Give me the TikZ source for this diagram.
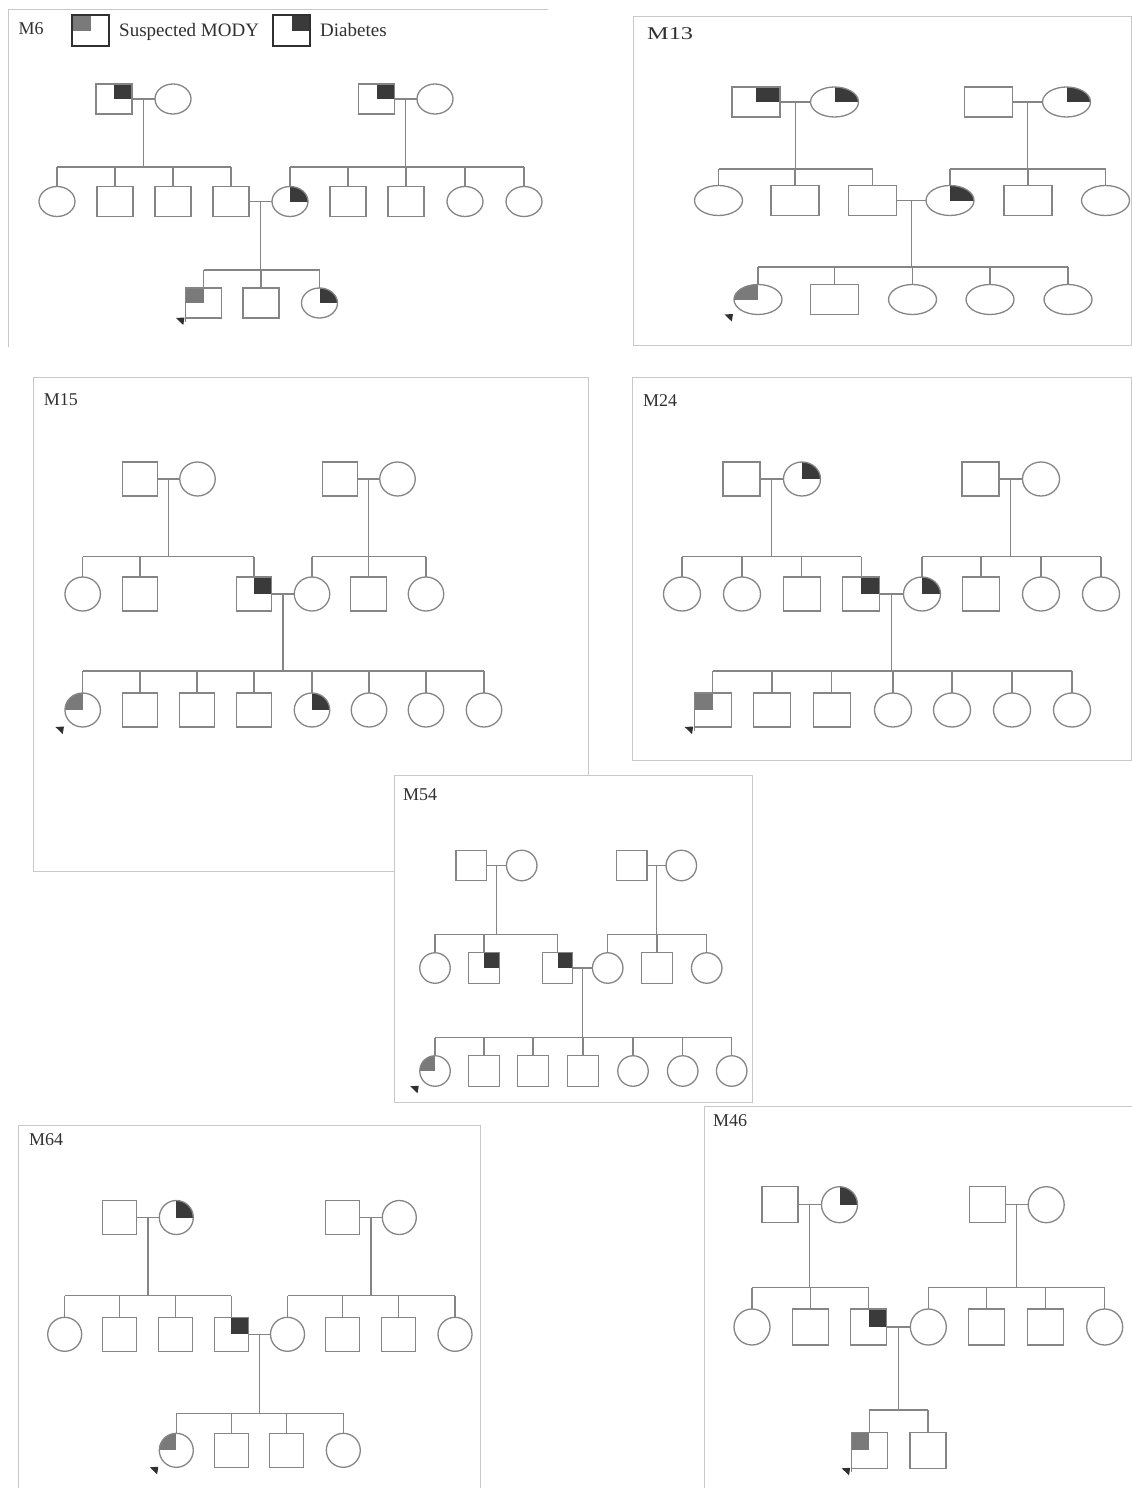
\documentclass[tikz,border=0pt]{standalone}
\usepackage{fontspec}
\setmainfont{Liberation Serif}
\usetikzlibrary{shapes.geometric,calc}
\definecolor{lc}{HTML}{858585}
\definecolor{fc}{HTML}{C8C8C8}
\definecolor{dk}{HTML}{3A3A3A}
\definecolor{md}{HTML}{7A7A7A}
\definecolor{tc}{HTML}{303030}
\def\pedw{36}\def\pedh{30}
\tikzset{
 ln/.style={draw=lc, line width=1.3pt},
 ind/.style={draw=lc, line width=1.3pt, fill=white, minimum width=\pedw pt, minimum height=\pedh pt, inner sep=0pt, outer sep=0pt},
 sq/.style={ind, rectangle},
 ci/.style={ind, ellipse},
 dia/.style={path picture={\fill[dk] (path picture bounding box.center) rectangle (path picture bounding box.north east);}},
 mody/.style={path picture={\fill[md] (path picture bounding box.center) rectangle (path picture bounding box.north west);}},
 frm/.style={draw=fc, line width=0.9pt},
 lbl/.style={anchor=base west, inner sep=0pt, text=tc, font=\fontsize{18}{18}\selectfont},
 leg/.style={rectangle, draw=tc, line width=2pt, fill=white, minimum width=37.5pt, minimum height=31pt, inner sep=0pt, outer sep=0pt},
}
% father, mother, sibship coordinate, first child, last child
\newcommand\pedfam[5]{%
 \draw[ln] (#1.east) -- (#2.west);
 \coordinate (#1#2m) at ($(#1.east)!.5!(#2.west)$);
 \draw[ln] (#1#2m) -- (#1#2m |- #3);
 \draw[ln] (#4.north |- #3) -- (#5.north |- #3);
}
\newcommand\pbtri[1]{\fill[tc] ($(#1)+(-9.5,0)$) -- ($(#1)+(-1,-0.5)$) -- ($(#1)+(-2.2,7)$) -- cycle;}
\begin{document}
\begin{tikzpicture}[x=1pt,y=-1pt]
\useasboundingbox (0,0) rectangle (1132,1488);
\clip (0,0) rectangle (1132,1488);
% ---------- frames ----------
\draw[frm] (8,347) -- (8,9.5) -- (548,9.5);
\draw[frm] (633,16) rectangle (1131,345);
\draw[frm] (33.6,377.7) rectangle (588,871.7);
\draw[frm] (632,377.7) rectangle (1131,760);
\draw[frm, fill=white] (394,775) rectangle (752,1102.7);
\draw[frm] (18.3,1125) rectangle (480,1500);
\draw[frm] (704,1106) rectangle (1145,1500);
% ---------- labels ----------
\node[lbl] (t6) at (18.5,34.5) {M6};
\node[leg, mody] (lg1) at (90.5,31) {};
\node[lbl, font=\fontsize{19}{19}\selectfont] (lt1) at (119,37) {Suspected MODY};
\node[leg, dia] (lg2) at (291.5,31) {};
\node[lbl, font=\fontsize{19}{19}\selectfont] (lt2) at (320,37) {Diabetes};
\node[lbl] (t13) at (647,40) {\scalebox{1.35}[1]{M13}};
\node[lbl] (t15) at (43.6,405) {M15};
\node[lbl] (t24) at (643,406) {M24};
\node[lbl] (t54) at (403,800) {M54};
\node[lbl] (t64) at (29,1145) {M64};
\node[lbl] (t46) at (713,1126) {M46};

% ================= M6 =================
\begin{scope}
\def\pedw{36}\def\pedh{30}
\node[sq,dia] (A1) at (114,99) {};
\node[ci] (A2) at (173,99) {};
\node[sq,dia] (A3) at (376.5,99) {};
\node[ci] (A4) at (435,99) {};
\coordinate (As1) at (0,167);
\coordinate (As2) at (0,270);
\node[ci] (a1) at (57,201.5) {};
\node[sq] (a2) at (115,201.5) {};
\node[sq] (a3) at (173,201.5) {};
\node[sq] (a4) at (231,201.5) {};
\node[ci,dia] (a5) at (290,201.5) {};
\node[sq] (a6) at (348,201.5) {};
\node[sq] (a7) at (406,201.5) {};
\node[ci] (a8) at (465,201.5) {};
\node[ci] (a9) at (524,201.5) {};
\node[sq,mody] (b1) at (203.5,303) {};
\node[sq] (b2) at (261,303) {};
\node[ci,dia] (b3) at (319.5,303) {};
\pedfam{A1}{A2}{As1}{a1}{a4}
\pedfam{A3}{A4}{As1}{a5}{a9}
\pedfam{a4}{a5}{As2}{b1}{b3}
\foreach \c in {a1,a2,a3,a4,a5,a6,a7,a8,a9} \draw[ln] (\c.north) -- (\c.north |- As1);
\foreach \c in {b1,b2,b3} \draw[ln] (\c.north) -- (\c.north |- As2);
\draw[ln] (b1.south west) -- ++(0,4);
\coordinate (b1k) at (b1.south west);
\pbtri{b1k}
\end{scope}

% ================= M13 =================
\begin{scope}
\def\pedw{48}\def\pedh{30}
\node[sq,dia] (B1) at (756,102) {};
\node[ci,dia] (B2) at (834.5,102) {};
\node[sq] (B3) at (988.5,102) {};
\node[ci,dia] (B4) at (1066.5,102) {};
\coordinate (Bs1) at (0,169);
\coordinate (Bs2) at (0,267);
\node[ci] (e1) at (718.5,200.5) {};
\node[sq] (e2) at (795,200.5) {};
\node[sq] (e3) at (872.5,200.5) {};
\node[ci,dia] (e4) at (950,200.5) {};
\node[sq] (e5) at (1028,200.5) {};
\node[ci] (e6) at (1105.5,200.5) {};
\node[ci,mody] (f1) at (758,299.5) {};
\node[sq] (f2) at (834.5,299.5) {};
\node[ci] (f3) at (912.5,299.5) {};
\node[ci] (f4) at (990,299.5) {};
\node[ci] (f5) at (1068,299.5) {};
\pedfam{B1}{B2}{Bs1}{e1}{e3}
\pedfam{B3}{B4}{Bs1}{e4}{e6}
\pedfam{e3}{e4}{Bs2}{f1}{f5}
\foreach \c in {e1,e2,e3,e4,e5,e6} \draw[ln] (\c.north) -- (\c.north |- Bs1);
\foreach \c in {f1,f2,f3,f4,f5} \draw[ln] (\c.north) -- (\c.north |- Bs2);
\coordinate (f1k) at (f1.west |- f1.south);
\pbtri{f1k}
\end{scope}

% ================= M15 =================
\begin{scope}
\def\pedw{35.5}\def\pedh{34}
\node[sq] (C1) at (140,479) {};
\node[ci] (C2) at (197.5,479) {};
\node[sq] (C3) at (340,479) {};
\node[ci] (C4) at (397.5,479) {};
\coordinate (Cs1) at (0,556.7);
\coordinate (Cs2) at (0,671);
\node[ci] (g1) at (82.7,594) {};
\node[sq] (g2) at (140,594) {};
\node[sq,dia] (g3) at (254,594) {};
\node[ci] (g4) at (312,594) {};
\node[sq] (g5) at (368.5,594) {};
\node[ci] (g6) at (426,594) {};
\node[ci,mody] (h1) at (82.7,710) {};
\node[sq] (h2) at (140,710) {};
\node[sq] (h3) at (197,710) {};
\node[sq] (h4) at (254,710) {};
\node[ci,dia] (h5) at (312,710) {};
\node[ci] (h6) at (369,710) {};
\node[ci] (h7) at (426,710) {};
\node[ci] (h8) at (484,710) {};
\pedfam{C1}{C2}{Cs1}{g1}{g3}
\pedfam{C3}{C4}{Cs1}{g4}{g6}
\pedfam{g3}{g4}{Cs2}{h1}{h8}
\foreach \c in {g1,g2,g3,g4,g5,g6} \draw[ln] (\c.north) -- (\c.north |- Cs1);
\foreach \c in {h1,h2,h3,h4,h5,h6,h7,h8} \draw[ln] (\c.north) -- (\c.north |- Cs2);
\coordinate (h1k) at (h1.west |- h1.south);
\pbtri{h1k}
\end{scope}

% ================= M24 =================
\begin{scope}
\def\pedw{37}\def\pedh{34}
\node[sq] (D1) at (741.5,479) {};
\node[ci,dia] (D2) at (802,479) {};
\node[sq] (D3) at (980.5,479) {};
\node[ci] (D4) at (1041,479) {};
\coordinate (Ds1) at (0,556.7);
\coordinate (Ds2) at (0,671);
\node[ci] (i1) at (682,594) {};
\node[ci] (i2) at (742,594) {};
\node[sq] (i3) at (801.7,594) {};
\node[sq,dia] (i4) at (861.3,594) {};
\node[ci,dia] (i5) at (922,594) {};
\node[sq] (i6) at (981,594) {};
\node[ci] (i7) at (1041,594) {};
\node[ci] (i8) at (1101,594) {};
\node[sq,mody] (j1) at (712.7,710) {};
\node[sq] (j2) at (772,710) {};
\node[sq] (j3) at (831.7,710) {};
\node[ci] (j4) at (893,710) {};
\node[ci] (j5) at (952,710) {};
\node[ci] (j6) at (1012,710) {};
\node[ci] (j7) at (1072,710) {};
\pedfam{D1}{D2}{Ds1}{i1}{i4}
\pedfam{D3}{D4}{Ds1}{i5}{i8}
\pedfam{i4}{i5}{Ds2}{j1}{j7}
\foreach \c in {i1,i2,i3,i4,i5,i6,i7,i8} \draw[ln] (\c.north) -- (\c.north |- Ds1);
\foreach \c in {j1,j2,j3,j4,j5,j6,j7} \draw[ln] (\c.north) -- (\c.north |- Ds2);
\draw[ln] (j1.south west) -- ++(0,4);
\coordinate (j1k) at (j1.south west);
\pbtri{j1k}
\end{scope}

% ================= M54 =================
\begin{scope}
\def\pedw{30.5}\def\pedh{30.5}
\node[sq] (E1) at (471.2,865.5) {};
\node[ci] (E2) at (521.7,865.5) {};
\node[sq] (E3) at (631.7,865.5) {};
\node[ci] (E4) at (681.3,865.5) {};
\coordinate (Es1) at (0,934.3);
\coordinate (Es2) at (0,1037.7);
\node[ci] (k1) at (435,968) {};
\node[sq,dia] (k2) at (484,968) {};
\node[sq,dia] (k3) at (557.5,968) {};
\node[ci] (k4) at (607.7,968) {};
\node[sq] (k5) at (657,968) {};
\node[ci] (k6) at (706.7,968) {};
\node[ci,mody] (l1) at (435,1071) {};
\node[sq] (l2) at (484,1071) {};
\node[sq] (l3) at (533,1071) {};
\node[sq] (l4) at (583,1071) {};
\node[ci] (l5) at (633,1071) {};
\node[ci] (l6) at (682.7,1071) {};
\node[ci] (l7) at (731.7,1071) {};
\pedfam{E1}{E2}{Es1}{k1}{k3}
\pedfam{E3}{E4}{Es1}{k4}{k6}
\pedfam{k3}{k4}{Es2}{l1}{l7}
\foreach \c in {k1,k2,k3,k4,k5,k6} \draw[ln] (\c.north) -- (\c.north |- Es1);
\foreach \c in {l1,l2,l3,l4,l5,l6,l7} \draw[ln] (\c.north) -- (\c.north |- Es2);
\coordinate (l1k) at (l1.west |- l1.south);
\pbtri{l1k}
\end{scope}

% ================= M64 =================
\begin{scope}
\def\pedw{34}\def\pedh{34}
\node[sq] (F1) at (119.7,1217.5) {};
\node[ci,dia] (F2) at (176.3,1217.5) {};
\node[sq] (F3) at (342.8,1217.5) {};
\node[ci] (F4) at (399.3,1217.5) {};
\coordinate (Fs1) at (0,1295.7);
\coordinate (Fs2) at (0,1413.3);
\node[ci] (n1) at (64.7,1334.3) {};
\node[sq] (n2) at (119.7,1334.3) {};
\node[sq] (n3) at (175.3,1334.3) {};
\node[sq,dia] (n4) at (231.2,1334.3) {};
\node[ci] (n5) at (287.5,1334.3) {};
\node[sq] (n6) at (342.8,1334.3) {};
\node[sq] (n7) at (398.5,1334.3) {};
\node[ci] (n8) at (455,1334.3) {};
\node[ci,mody] (o1) at (176.3,1450.3) {};
\node[sq] (o2) at (231.2,1450.3) {};
\node[sq] (o3) at (286.7,1450.3) {};
\node[ci] (o4) at (343.3,1450.3) {};
\pedfam{F1}{F2}{Fs1}{n1}{n4}
\pedfam{F3}{F4}{Fs1}{n5}{n8}
\pedfam{n4}{n5}{Fs2}{o1}{o4}
\foreach \c in {n1,n2,n3,n4,n5,n6,n7,n8} \draw[ln] (\c.north) -- (\c.north |- Fs1);
\foreach \c in {o1,o2,o3,o4} \draw[ln] (\c.north) -- (\c.north |- Fs2);
\coordinate (o1k) at (o1.west |- o1.south);
\pbtri{o1k}
\end{scope}

% ================= M46 =================
\begin{scope}
\def\pedw{36}\def\pedh{36}
\node[sq] (H1) at (780,1204.7) {};
\node[ci,dia] (H2) at (839.5,1204.7) {};
\node[sq] (H3) at (987.2,1204.7) {};
\node[ci] (H4) at (1046.2,1204.7) {};
\coordinate (Hs1) at (0,1287.7);
\coordinate (Hs2) at (0,1410);
\node[ci] (p1) at (752,1327) {};
\node[sq] (p2) at (810.5,1327) {};
\node[sq,dia] (p3) at (868.8,1327) {};
\node[ci] (p4) at (928.3,1327) {};
\node[sq] (p5) at (986.3,1327) {};
\node[sq] (p6) at (1045.3,1327) {};
\node[ci] (p7) at (1104.7,1327) {};
\node[sq,mody] (q1) at (869.2,1450.3) {};
\node[sq] (q2) at (928,1450.3) {};
\pedfam{H1}{H2}{Hs1}{p1}{p3}
\pedfam{H3}{H4}{Hs1}{p4}{p7}
\pedfam{p3}{p4}{Hs2}{q1}{q2}
\foreach \c in {p1,p2,p3,p4,p5,p6,p7} \draw[ln] (\c.north) -- (\c.north |- Hs1);
\foreach \c in {q1,q2} \draw[ln] (\c.north) -- (\c.north |- Hs2);
\draw[ln] (q1.south west) -- ++(0,4);
\coordinate (q1k) at (q1.south west);
\pbtri{q1k}
\end{scope}
\end{tikzpicture}
\end{document}
